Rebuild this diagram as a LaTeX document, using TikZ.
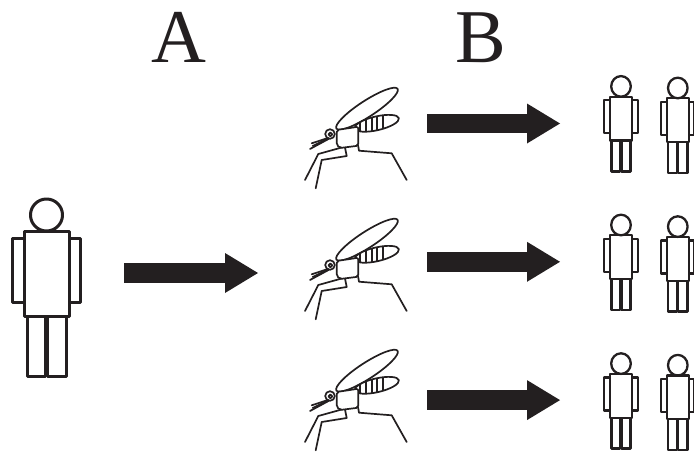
\documentclass[tikz,border=0pt]{standalone}
\usepackage{fontspec}
\setmainfont{Liberation Serif}
\usetikzlibrary{arrows.meta}

\definecolor{ink}{RGB}{35,31,32}

\tikzset{
	% stick figure, origin at the top of the torso, #1 = head radius
	pics/person/.style={code={
		\draw (-22.5,0) rectangle (22.5,85);
		\draw (-34,7) rectangle (-22.5,71);
		\draw (22.5,7) rectangle (34,71);
		\draw (-19.5,85) rectangle (-1.5,145);
		\draw (1,85) rectangle (19.5,145);
		\draw (0,-#1) circle (#1);
	}},
	% mosquito, origin at the centre of the head
	pics/mosquito/.style={code={
		% legs
		\draw (15,13.5) -- (16.7,22) -- (-8.3,26) -- (-14.3,54.3);
		\draw (11.7,13.5) -- (-11.7,20) -- (-25,46);
		\draw (28,11) -- (29,16.7) -- (61.7,19.3) -- (76.7,46);
		% wing
		\draw[fill=white,rotate around={33:(37,-25.3)}] (37,-25.3) ellipse (36.5 and 8);
		% abdomen with stripes
		\draw[fill=white,rotate around={13:(46.8,-10.7)}] (46.8,-10.7) ellipse (22.7 and 6.9);
		\begin{scope}
			\clip[rotate around={13:(46.8,-10.7)}] (46.8,-10.7) ellipse (22.7 and 6.9);
			\foreach \x in {30,35.7,41.7,47.3,53.3} {
				\draw (\x,-30) -- (\x,5);
			}
		\end{scope}
		% thorax
		\draw[fill=white,rounded corners=2] (6.7,-4) -- (28.3,-7.3) -- (28.3,11.7) -- (10,14) -- (6.7,11) -- cycle;
		% head and proboscis
		\draw[fill=white] (0,0) circle (4.8);
		\draw (0.4,0.4) circle (1.9);
		\draw (-2,4) -- (-18.3,9.3);
		\draw (-2,4.5) -- (-17.3,12);
		\draw (-1.5,5) -- (-20,15);
	}},
	bigarrow/.style={ink,line width=19.5pt,-{Triangle[length=33pt,width=40pt,line width=0pt]}},
	letter/.style={ink,anchor=base,font=\fontsize{76}{76}\selectfont}
}

\begin{document}
\begin{tikzpicture}[x=1pt,y=-1pt,line join=round,line cap=round,draw=ink]
	\useasboundingbox (0,0) rectangle (694,455);
	
	\node[letter] (A) at (179,62) {A};
	\node[letter] (B) at (480.5,62) {B};
	
	% infected person and the first transmission
	\pic[line width=3pt] (man) at (46.5,231) {person=16};
	\path
	(124,273) coordinate (T0)
	(258,273) coordinate (E0);
	\draw[bigarrow,line cap=butt] (T0) -- (E0);
	
	\foreach \i in {0,1,2} {
		\pic[line width=1.7pt] (mq\i) at (330,{134+131*\i}) {mosquito};
		\path
		(427,{123.5+138.3*\i}) coordinate (T\i-1)
		(560,{123.5+138.3*\i}) coordinate (E\i-1);
		\draw[bigarrow,line cap=butt] (T\i-1) -- (E\i-1);
		\pic[line width=2.3pt,xscale=0.49,yscale=0.515] (p\i a) at (621,{96.7+138.6*\i}) {person=20};
		\pic[line width=2.3pt,xscale=0.49,yscale=0.515] (p\i b) at (677.8,{98.3+138.6*\i}) {person=20};
	}
	
\end{tikzpicture}
\end{document}
